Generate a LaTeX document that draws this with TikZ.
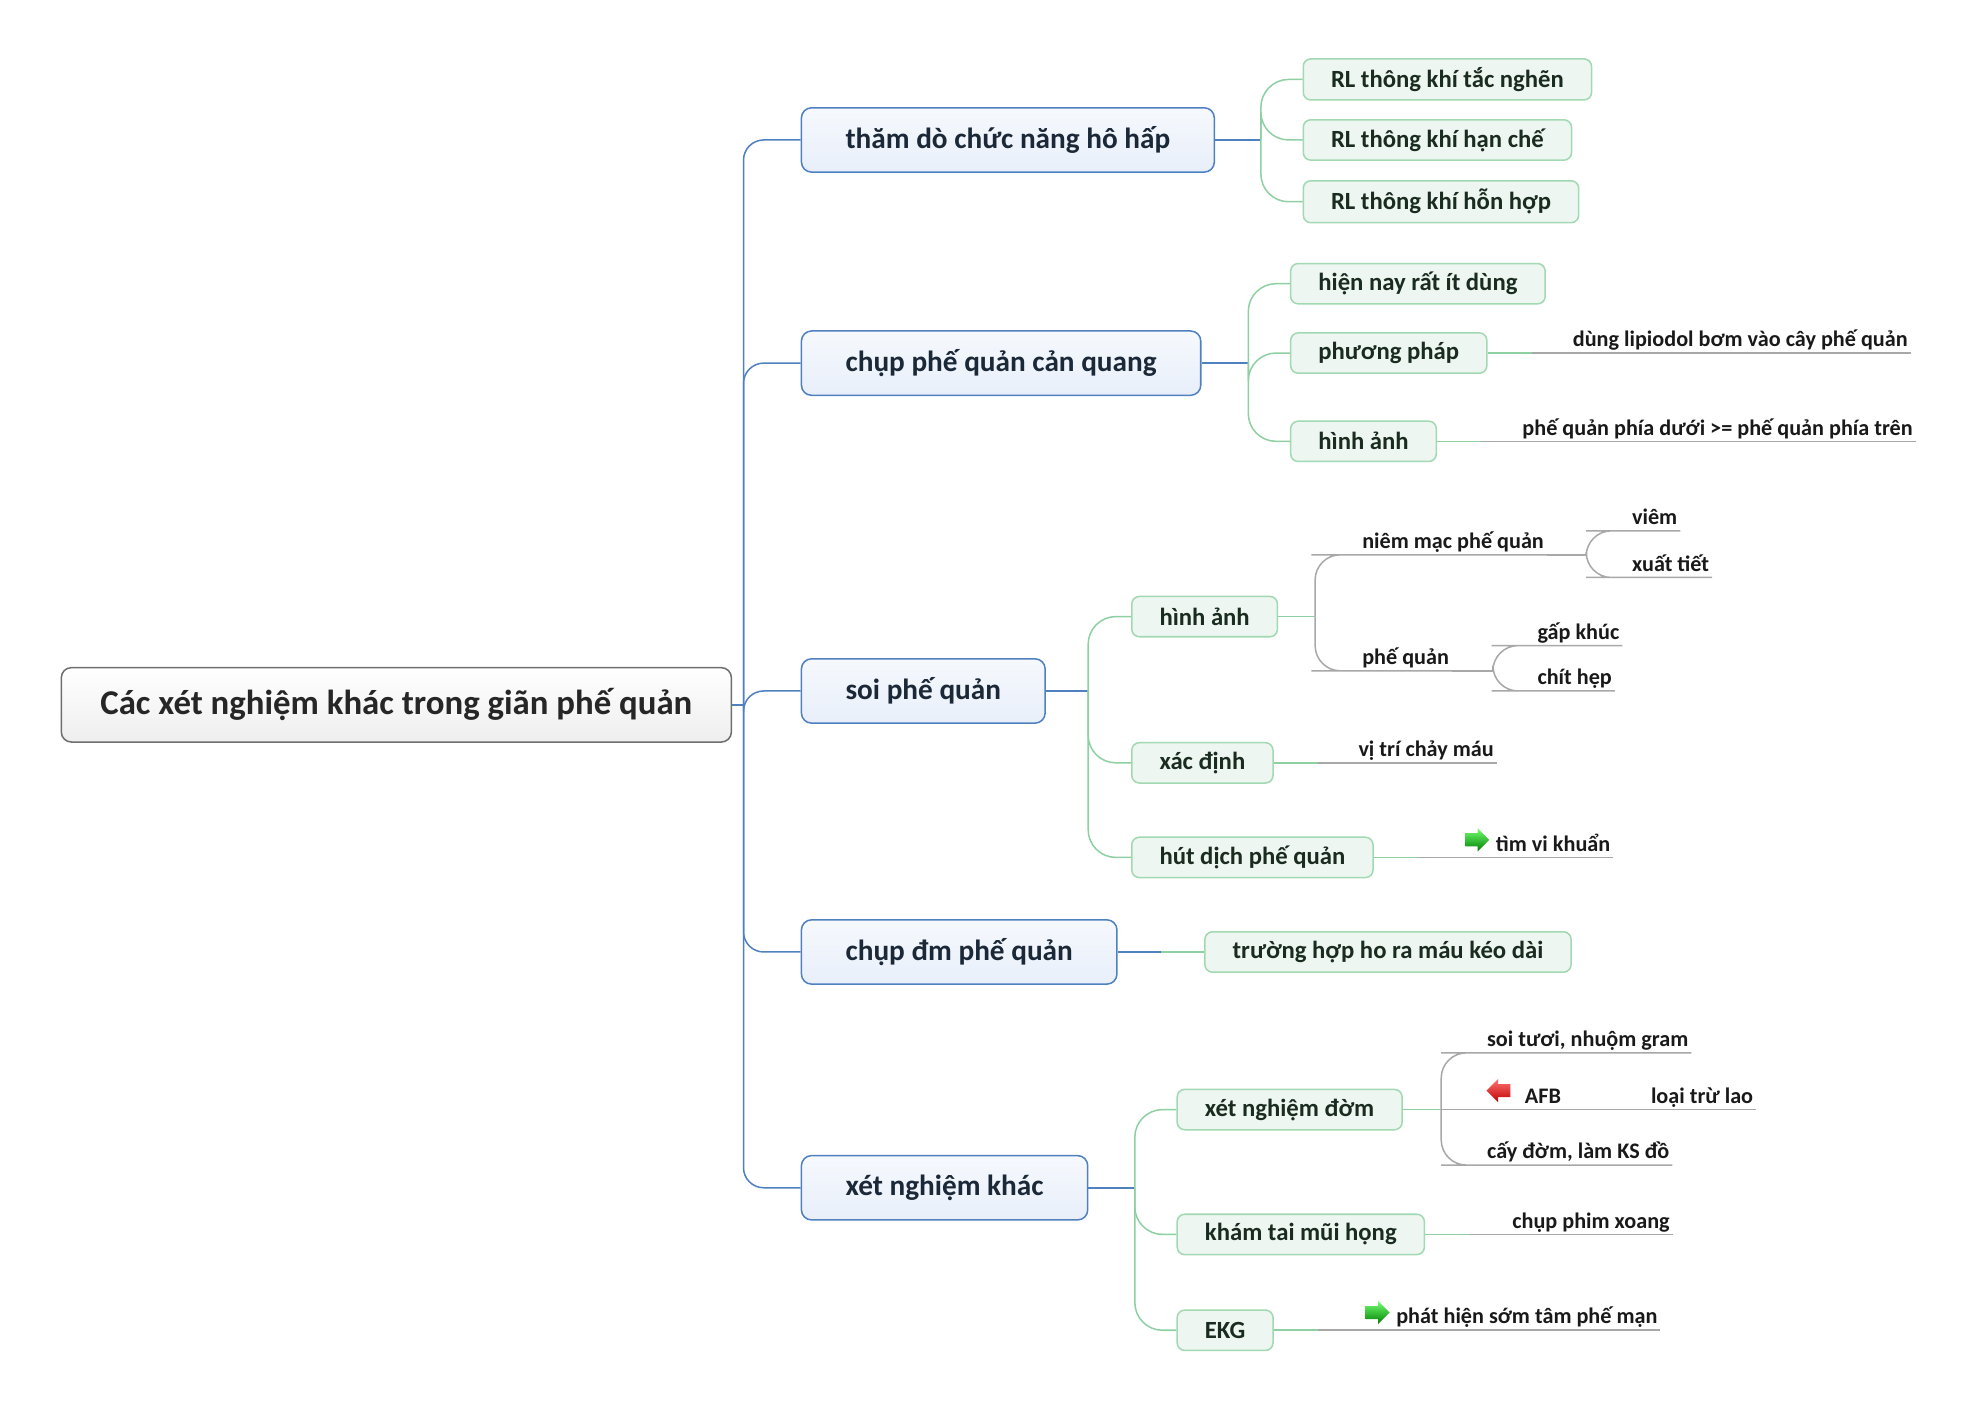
\documentclass[tikz,border=0pt]{standalone}
\usepackage{fontspec}
\setmainfont{Carlito}
\usepackage{tikz}
\usetikzlibrary{calc,shapes.arrows}
\definecolor{mmblue}{HTML}{4F80C0}
\definecolor{bluefill}{HTML}{E8EFFA}
\definecolor{mmgreen}{HTML}{8FD0A3}
\definecolor{greenedge}{HTML}{A2D8B2}
\definecolor{greenfill}{HTML}{EDF6F0}
\definecolor{mmgray}{HTML}{A8A8A8}
\definecolor{rootedge}{HTML}{6E6E6E}
\definecolor{rootfill}{HTML}{EEEEEE}
\definecolor{topictext}{HTML}{1B2838}
\definecolor{subtext}{HTML}{1A2B20}

\begin{document}
\begin{tikzpicture}[x=0.5pt,y=-0.5pt,
  rootbox/.style={draw=rootedge,line width=0.6pt,rounded corners=4pt,top color=white,bottom color=rootfill,
    text=black!85,font=\fontsize{13.8}{15}\selectfont\bfseries,minimum height=29.5pt,inner xsep=15.5pt,anchor=west},
  topicbox/.style={draw=mmblue,line width=0.6pt,rounded corners=4pt,top color=bluefill!40,bottom color=bluefill,
    text=topictext,font=\fontsize{11.6}{13}\selectfont\bfseries,minimum height=25.5pt,inner xsep=17.5pt,anchor=west},
  subbox/.style={draw=greenedge,line width=0.6pt,rounded corners=3pt,fill=greenfill,
    text=subtext,font=\fontsize{9.8}{11}\selectfont\bfseries,minimum height=16pt,inner xsep=11pt,anchor=west},
  leaf/.style={font=\fontsize{8.8}{10}\selectfont\bfseries,text=black!90,inner xsep=1pt,inner ysep=0.5pt,
    text depth=1.8pt,anchor=south west},
  blueline/.style={draw=mmblue,line width=0.6pt},
  greenline/.style={draw=mmgreen,line width=0.6pt,rounded corners=11pt},
  grayline/.style={draw=mmgray,line width=0.6pt,rounded corners=10pt},
  okarrow/.style={single arrow,draw=none,inner xsep=1.5pt,inner ysep=2.4pt,minimum height=9.5pt,
    single arrow head extend=2pt,top color=green!55!white,bottom color=green!50!black},
  noarrow/.style={okarrow,shape border rotate=180,top color=red!55!white,bottom color=red!75!black}]
\useasboundingbox (0,0) rectangle (1560,1113);

% root and main topics
\node[rootbox] (root) at (48,559) {Các xét nghiệm khác trong giãn phế quản};
\node[topicbox] (t1) at (635,111) {thăm dò chức năng hô hấp};
\node[topicbox] (t2) at (635,288) {chụp phế quản cản quang};
\node[topicbox] (t3) at (635,548) {soi phế quản};
\node[topicbox] (t4) at (635,755) {chụp đm phế quản};
\node[topicbox] (t5) at (635,942) {xét nghiệm khác};

% sub topics
\node[subbox] (s11) at (1033,63) {RL thông khí tắc nghẽn};
\node[subbox] (s12) at (1033,111) {RL thông khí hạn chế};
\node[subbox] (s13) at (1033,160) {RL thông khí hỗn hợp};
\node[subbox] (s21) at (1023,225) {hiện nay rất ít dùng};
\node[subbox] (s22) at (1023,280) {phương pháp};
\node[subbox] (s23) at (1023,350) {hình ảnh};
\node[subbox] (s31) at (897,489) {hình ảnh};
\node[subbox] (s32) at (897,605) {xác định};
\node[subbox] (s33) at (897,680) {hút dịch phế quản};
\node[subbox] (s41) at (955,755) {trường hợp ho ra máu kéo dài};
\node[subbox] (s51) at (933,880) {xét nghiệm đờm};
\node[subbox] (s52) at (933,979) {khám tai mũi họng};
\node[subbox] (s53) at (933,1055) {EKG};

% leaves
\node[leaf] (l221) at (1245,280) {dùng lipiodol bơm vào cây phế quản};
\node[leaf] (l231) at (1205,350) {phế quản phía dưới >= phế quản phía trên};
\node[leaf] (l311) at (1078,440) {niêm mạc phế quản};
\node[leaf] (l3111) at (1292,421) {viêm};
\node[leaf] (l3112) at (1292,458) {xuất tiết};
\node[leaf] (l312) at (1078,532) {phế quản};
\node[leaf] (l3121) at (1217,512) {gấp khúc};
\node[leaf] (l3122) at (1217,548) {chít hẹp};
\node[leaf] (l321) at (1075,605) {vị trí chảy máu};
\node[leaf] (l331) at (1184,680) {tìm vi khuẩn};
\node[leaf] (l511) at (1177,835) {soi tươi, nhuộm gram};
\node[leaf] (l512) at (1207,880) {AFB};
\node[leaf] (l5121) at (1307,880) {loại trừ lao};
\node[leaf] (l513) at (1177,924) {cấy đờm, làm KS đồ};
\node[leaf] (l521) at (1197,979) {chụp phim xoang};
\node[leaf] (l531) at (1105,1055) {phát hiện sớm tâm phế mạn};

% icons
\node[okarrow] (ic1) at (1169,666) {};
\node[noarrow] (ic2) at (1191,865) {};
\node[okarrow] (ic3) at (1090,1041) {};

% root -> topics
\coordinate (j0) at ($(root.east)+(9,0)$);
\draw[blueline] (root.east) -- (j0);
\foreach \t in {t1,t2,t3,t4,t5}
  \draw[blueline,rounded corners=8pt] (j0) |- (\t.west);

% topics -> sub topics
\coordinate (j1) at ($(t1.east -| s11.west)+(-33,0)$);
\draw[blueline] (t1.east) -- (j1);
\foreach \s in {s11,s12,s13}
  \draw[greenline] (j1) |- (\s.west);
\coordinate (j2) at ($(t2.east -| s21.west)+(-33,0)$);
\draw[blueline] (t2.east) -- (j2);
\foreach \s in {s21,s22,s23}
  \draw[greenline] (j2) |- (\s.west);
\coordinate (j3) at ($(t3.east -| s31.west)+(-34,0)$);
\draw[blueline] (t3.east) -- (j3);
\foreach \s in {s31,s32,s33}
  \draw[greenline] (j3) |- (\s.west);
\draw[greenline] (t4.east) -- (s41.west);
\draw[blueline] (t4.east) -- ($(t4.east)!.5!(t4.east -| s41.west)$);
\coordinate (j5) at ($(t5.east -| s51.west)+(-33,0)$);
\draw[blueline] (t5.east) -- (j5);
\foreach \s in {s51,s52,s53}
  \draw[greenline] (j5) |- (\s.west);

% sub topics -> leaves
\draw[grayline] (s22.east) -- (l221.south east);
\draw[greenline] (s22.east) -- ++(35,0);
\draw[grayline] (s23.east) -- (l231.south east);
\draw[greenline] (s23.east) -- ++(35,0);
\coordinate (j31) at ($(s31.east -| l311.south west)+(-35,0)$);
\draw[greenline] (s31.east) -- (j31);
\draw[grayline] (j31) |- ($(l311.south west)+(-18,0)$) -- (l311.south east);
\draw[grayline] (j31) |- ($(l312.south west)+(-18,0)$) -- (l312.south east);
\coordinate (j311) at (1258,440);
\draw[grayline] (l311.south east) -- (j311);
\draw[grayline] (j311) |- ($(l3111.south west)+(-14,0)$) -- (l3111.south east);
\draw[grayline] (j311) |- ($(l3112.south west)+(-14,0)$) -- (l3112.south east);
\coordinate (j312) at (1184,532);
\draw[grayline] (l312.south east) -- (j312);
\draw[grayline] (j312) |- ($(l3121.south west)+(-14,0)$) -- (l3121.south east);
\draw[grayline] (j312) |- ($(l3122.south west)+(-14,0)$) -- (l3122.south east);
\draw[grayline] (s32.east) -- (l321.south east);
\draw[greenline] (s32.east) -- ++(35,0);
\draw[grayline] (s33.east) -- (l331.south east);
\draw[greenline] (s33.east) -- ++(35,0);
\coordinate (j51) at ($(s51.east -| l511.south west)+(-34,0)$);
\draw[greenline] (s51.east) -- (j51);
\draw[grayline] (j51) |- ($(l511.south west)+(-14,0)$) -- (l511.south east);
\draw[grayline] (j51) -- (l512.south east);
\draw[grayline] (l512.south east) -- (l5121.south east);
\draw[grayline] (j51) |- ($(l513.south west)+(-14,0)$) -- (l513.south east);
\draw[grayline] (s52.east) -- (l521.south east);
\draw[greenline] (s52.east) -- ++(35,0);
\draw[grayline] (s53.east) -- (l531.south east);
\draw[greenline] (s53.east) -- ++(35,0);
\end{tikzpicture}
\end{document}
